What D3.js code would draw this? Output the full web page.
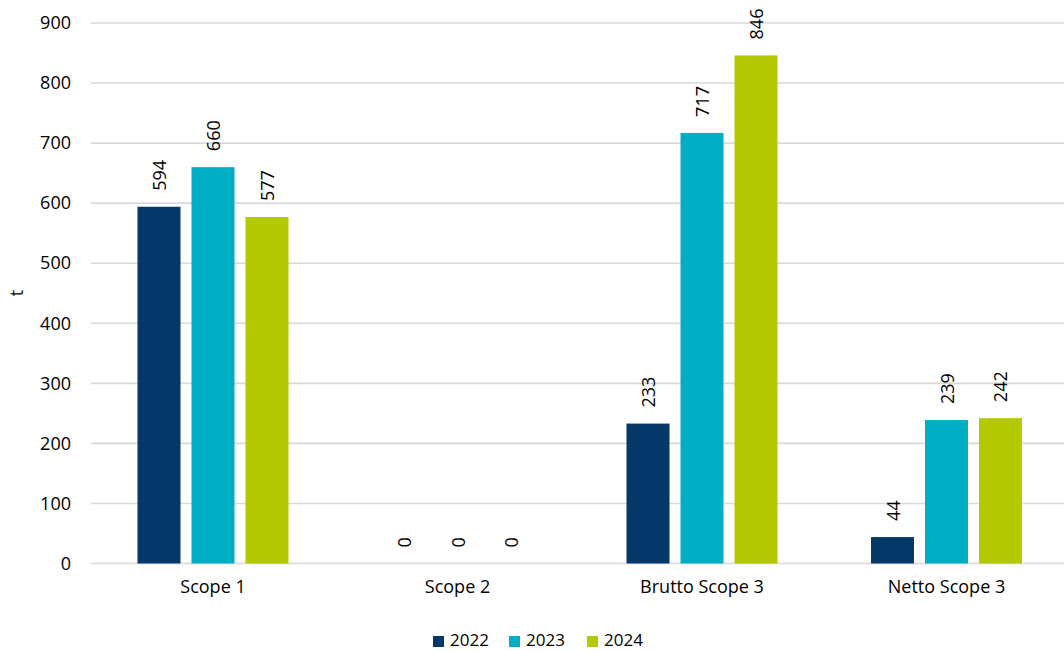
<!DOCTYPE html>
<html>
<head>
<meta charset="utf-8">
<script src="https://cdn.jsdelivr.net/npm/d3@7"></script>
<style>
  html, body { margin: 0; padding: 0; background: #fff; }
  svg { display: block; font-family: "Open Sans", "DejaVu Sans", sans-serif; }
</style>
</head>
<body>
<svg id="chart" width="1064" height="651"></svg>
<script>
// Emissions per scope and year (t)
const categories = ["Scope 1", "Scope 2", "Brutto Scope 3", "Netto Scope 3"];
const years = ["2022", "2023", "2024"];
const values2022 = [594, 0, 233, 44];
const values2023 = [660, 0, 717, 239];
const values2024 = [577, 0, 846, 242];
const yTicks = [0, 100, 200, 300, 400, 500, 600, 700, 800, 900];
const colors = ["#033869", "#00AEC6", "#B4CA00"];

const seriesValues = [values2022, values2023, values2024];

const svg = d3.select("#chart");

const x0 = d3.scaleBand().domain(categories).range([90.75, 1068.75]).padding(0);
const x1 = d3.scaleBand().domain(years).range([-75.5, 75.5]).paddingInner(0.2037).paddingOuter(0);
const y = d3.scaleLinear().domain([0, 900]).range([563.5, 23]);
const color = d3.scaleOrdinal().domain(years).range(colors);

// Horizontal gridlines
svg.append("g")
  .selectAll("line")
  .data(yTicks)
  .join("line")
  .attr("x1", 91).attr("x2", 1064)
  .attr("y1", d => y(d)).attr("y2", d => y(d))
  .attr("stroke", "#D9D9D9")
  .attr("stroke-width", 1.6);

// Y axis labels
const yAxis = d3.axisLeft(y).tickValues(yTicks).tickSize(0).tickPadding(0);
svg.append("g")
  .attr("transform", "translate(71,0)")
  .call(yAxis)
  .call(g => g.select(".domain").remove())
  .selectAll("text")
  .attr("font-family", "'Open Sans', sans-serif")
  .attr("font-size", 18)
  .attr("fill", "#000");

// Y axis title
svg.append("text")
  .attr("transform", "translate(23,293) rotate(-90)")
  .attr("text-anchor", "middle")
  .attr("font-size", 18)
  .attr("fill", "#000")
  .text("t");

// Bars and value labels
const rows = categories.map((c, i) => ({
  category: c,
  items: years.map((yr, j) => ({ year: yr, value: seriesValues[j][i] }))
}));

const groups = svg.append("g")
  .selectAll("g")
  .data(rows)
  .join("g")
  .attr("transform", d => `translate(${x0(d.category) + x0.bandwidth() / 2},0)`);

groups.selectAll("rect")
  .data(d => d.items)
  .join("rect")
  .attr("x", d => x1(d.year))
  .attr("width", x1.bandwidth())
  .attr("y", d => y(d.value))
  .attr("height", d => y(0) - y(d.value))
  .attr("fill", d => color(d.year));

groups.selectAll("text")
  .data(d => d.items)
  .join("text")
  .attr("transform", d => `translate(${x1(d.year) + x1.bandwidth() / 2},${y(d.value) - 16}) rotate(-90)`)
  .attr("text-anchor", "start")
  .attr("dominant-baseline", "central")
  .attr("font-size", 18)
  .attr("fill", "#000")
  .text(d => d.value);

// Category labels
const xAxis = d3.axisBottom(x0).tickSize(0).tickPadding(0);
svg.append("g")
  .attr("transform", "translate(0,580)")
  .call(xAxis)
  .call(g => g.select(".domain").remove())
  .selectAll("text")
  .attr("font-family", "'Open Sans', sans-serif")
  .attr("font-size", 18)
  .attr("fill", "#000");

// Legend
const legend = svg.append("g").attr("transform", "translate(433,636)");
const legendX = [0, 76, 154];
const items = legend.selectAll("g")
  .data(years)
  .join("g")
  .attr("transform", (d, i) => `translate(${legendX[i]},0)`);
items.append("rect")
  .attr("width", 11).attr("height", 11)
  .attr("fill", d => color(d));
items.append("text")
  .attr("x", 17).attr("y", 10)
  .attr("dominant-baseline", "alphabetic")
  .attr("font-size", 17)
  .attr("fill", "#000")
  .text(d => d);
</script>
</body>
</html>
